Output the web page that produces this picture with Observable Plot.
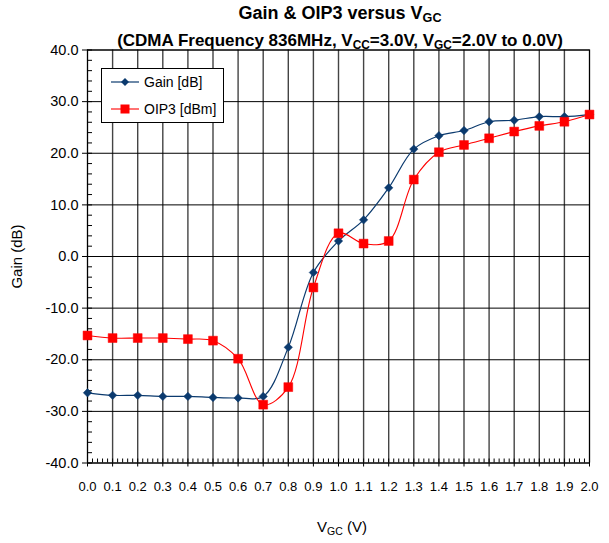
<!DOCTYPE html>
<html><head><meta charset="utf-8">
<script src="https://cdn.jsdelivr.net/npm/d3@7"></script>
<script src="https://cdn.jsdelivr.net/npm/@observablehq/plot@0.6"></script>
<style>
body{margin:0;background:#fff;font-family:"Liberation Sans",Arial,sans-serif;}
#wrap{position:relative;width:609px;height:543px;}
#wrap svg.plot{position:absolute;left:0;top:0;}
.t{position:absolute;white-space:nowrap;font-weight:bold;color:#000;transform:translateX(-50%);}
sub{font-size:70%;vertical-align:-0.25em;line-height:0;}
#legend{position:absolute;left:101px;top:68px;width:121px;height:53px;background:#fff;border:1px solid #000;font-size:14px;}
#legend .row{position:absolute;left:9px;display:flex;align-items:center;}
#legend .row span{margin-left:5px;}
#xl{position:absolute;font-size:15px;transform:translateX(-50%);white-space:nowrap;}
</style></head>
<body><div id="wrap"></div>
<script>
const vgc = [0.0,0.1,0.2,0.3,0.4,0.5,0.6,0.7,0.8,0.9,1.0,1.1,1.2,1.3,1.4,1.5,1.6,1.7,1.8,1.9,2.0];
const gain = [-26.4,-26.9,-26.9,-27.1,-27.1,-27.3,-27.4,-27.1,-17.6,-3.1,3.0,7.1,13.3,20.8,23.4,24.4,26.1,26.4,27.1,27.1,27.5];
const oip3 = [-15.3,-15.8,-15.8,-15.8,-16.0,-16.3,-19.8,-28.7,-25.3,-6.0,4.5,2.5,3.0,14.9,20.2,21.6,22.9,24.2,25.3,26.1,27.5];
const xTicks = [0.0,0.1,0.2,0.3,0.4,0.5,0.6,0.7,0.8,0.9,1.0,1.1,1.2,1.3,1.4,1.5,1.6,1.7,1.8,1.9,2.0];
const yTicks = [-40,-30,-20,-10,0,10,20,30,40];
const xMinor = d3.range(0, 100.5, 1).map(i => i/50);
const yMinor = d3.range(-40, 40.5, 2);
const seriesNames = ["Gain [dB]", "OIP3 [dBm]"];
const gainColor = "#0b3a6e", oipColor = "#ff0000";

const gData = vgc.map((x,i)=>({x, y: gain[i]}));
const oData = vgc.map((x,i)=>({x, y: oip3[i]}));

const chart = Plot.plot({
  width: 609, height: 543,
  marginTop: 49.5, marginBottom: 80.5, marginLeft: 87, marginRight: 20,
  style: {fontFamily: '"Liberation Sans", Arial, sans-serif', fontSize: "13px", color: "#000", background: "#fff"},
  x: {domain: [0, 2]},
  y: {domain: [-40, 40]},
  marks: [
    Plot.gridX(xTicks, {stroke: "#444", strokeOpacity: 1, strokeWidth: 1.4}),
    Plot.gridY(yTicks, {stroke: "#000", strokeOpacity: 1, strokeWidth: 1}),
    Plot.axisY(yMinor, {text: null, tickSize: -5, stroke: "#000", label: null}),
    Plot.axisX(xMinor, {text: null, tickSize: -4, stroke: "#000", label: null}),
    Plot.axisY(yTicks, {tickFormat: d => d.toFixed(1), tickSize: 5, tickPadding: 4, fontSize: 14.5, label: "Gain (dB)", labelAnchor: "center", labelArrow: "none", labelOffset: 76}),
    Plot.axisX(xTicks, {tickFormat: d => d.toFixed(1), tickSize: 4, tickPadding: 15, fontSize: 13, label: null}),
    Plot.frame({stroke: "#000"}),
    Plot.line(gData, {x: "x", y: "y", stroke: gainColor, strokeWidth: 1.2, curve: "catmull-rom"}),
    Plot.line(oData, {x: "x", y: "y", stroke: oipColor, strokeWidth: 1.1, curve: "catmull-rom"}),
    Plot.dot(gData, {x: "x", y: "y", symbol: "diamond2", r: 3.8, fill: gainColor, stroke: gainColor, strokeWidth: 0.5}),
    Plot.dot(oData, {x: "x", y: "y", symbol: "square", r: 5, fill: oipColor, stroke: oipColor, strokeWidth: 0.5})
  ]
});
chart.classList.add("plot");
chart.querySelectorAll("text").forEach(t => { if (t.textContent === "Gain (dB)") t.setAttribute("font-size", "15"); });
const wrap = document.getElementById("wrap");
wrap.appendChild(chart);

function add(html, cls, css){ const d=document.createElement("div"); d.className=cls; d.innerHTML=html; Object.assign(d.style, css); wrap.appendChild(d); return d; }
add('Gain &amp; OIP3 versus V<sub>GC</sub>', 't', {left:'340px', top:'3px', fontSize:'18px'});
add('(CDMA Frequency 836MHz, V<sub>CC</sub>=3.0V, V<sub>GC</sub>=2.0V to 0.0V)', 't', {left:'340px', top:'31px', fontSize:'17px'});
const xl = document.createElement("div"); xl.id="xl"; xl.innerHTML='V<sub>GC</sub> (V)'; xl.style.left='342px'; xl.style.top='518px'; wrap.appendChild(xl);

const leg = document.createElement("div"); leg.id="legend";
const sym = [
  `<svg width="28" height="12"><line x1="0" y1="6" x2="28" y2="6" stroke="${gainColor}" stroke-width="1.2"/><path d="M14 2 L18 6 L14 10 L10 6Z" fill="${gainColor}"/></svg>`,
  `<svg width="28" height="12"><line x1="0" y1="6" x2="28" y2="6" stroke="${oipColor}" stroke-width="1.1"/><rect x="9.5" y="1.5" width="9" height="9" fill="${oipColor}"/></svg>`
];
seriesNames.forEach((n,i)=>{
  const r=document.createElement("div"); r.className="row"; r.style.top=(i===0?5:32)+"px";
  r.innerHTML = sym[i] + `<span>${n}</span>`; leg.appendChild(r);
});
wrap.appendChild(leg);
</script></body></html>
